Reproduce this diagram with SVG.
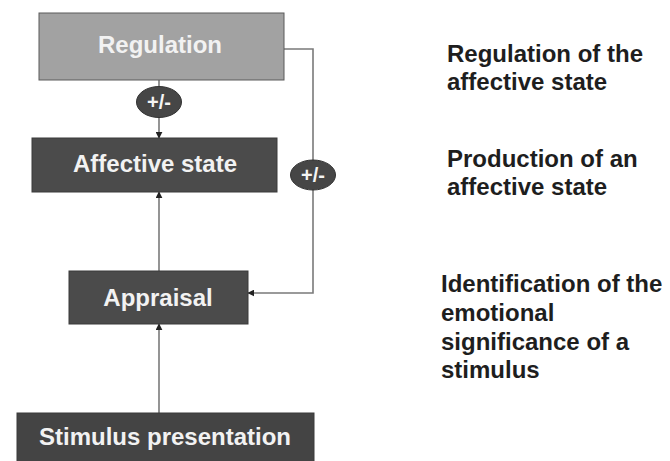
<svg xmlns="http://www.w3.org/2000/svg" width="670" height="461" viewBox="0 0 670 461">
<defs>
<style>
.box{stroke:#3a3a3a;stroke-width:1}
.dark{fill:#4b4b4b}
.light{fill:#a2a2a2;stroke:#5a5a5a}
.lbl{font-family:"Liberation Sans",Arial,sans-serif;font-weight:bold;font-size:24px;fill:#f2f2f2;text-anchor:middle}
.desc{font-family:"Liberation Sans",Arial,sans-serif;font-weight:bold;font-size:24px;fill:#1e1e1e}
.pm{fill:#464646;stroke:#333;stroke-width:1}
.pmt{font-family:"Liberation Sans",Arial,sans-serif;font-weight:bold;font-size:20px;fill:#f4f4f4;text-anchor:middle}
.conn{fill:none;stroke:#7a7a7a;stroke-width:1.6}
</style>
<marker id="arr" viewBox="0 0 10 10" refX="9" refY="5" markerWidth="7" markerHeight="7" markerUnits="userSpaceOnUse" orient="auto">
<path d="M0,0 L10,5 L0,10 z" fill="#222"/>
</marker>
</defs>
<rect width="670" height="461" fill="#ffffff"/>
<g id="connectors">
<line class="conn" x1="159" y1="80" x2="159" y2="138" marker-end="url(#arr)"/>
<line class="conn" x1="159" y1="271" x2="159" y2="192" marker-end="url(#arr)"/>
<line class="conn" x1="159" y1="413" x2="159" y2="324" marker-end="url(#arr)"/>
<polyline class="conn" points="284,49 313,49 313,293 248,293" marker-end="url(#arr)"/>
</g>
<g id="regulation">
<rect class="box light" x="39" y="13" width="245" height="67"/>
<text class="lbl" x="160" y="53">Regulation</text>
</g>
<g id="affective-state">
<rect class="box dark" x="32" y="138" width="245" height="54"/>
<text class="lbl" x="155" y="172">Affective state</text>
</g>
<g id="appraisal">
<rect class="box dark" x="69" y="271" width="179" height="53"/>
<text class="lbl" x="158" y="306">Appraisal</text>
</g>
<g id="stimulus">
<rect class="box" fill="#444444" x="17" y="413" width="297" height="52"/>
<text class="lbl" x="165" y="445">Stimulus presentation</text>
</g>
<g id="pm-top">
<ellipse class="pm" cx="159" cy="102" rx="22.5" ry="15.5"/>
<text class="pmt" x="159" y="109">+/-</text>
</g>
<g id="pm-right">
<ellipse class="pm" cx="313" cy="175" rx="22.5" ry="15"/>
<text class="pmt" x="313" y="182">+/-</text>
</g>
<g id="desc-regulation">
<text class="desc" x="447" y="62">Regulation of the</text>
<text class="desc" x="447" y="90">affective state</text>
</g>
<g id="desc-production">
<text class="desc" x="447" y="167">Production of an</text>
<text class="desc" x="447" y="195">affective state</text>
</g>
<g id="desc-identification">
<text class="desc" x="441" y="292">Identification of the</text>
<text class="desc" x="441" y="321">emotional</text>
<text class="desc" x="441" y="350">significance of a</text>
<text class="desc" x="441" y="378">stimulus</text>
</g>
</svg>
